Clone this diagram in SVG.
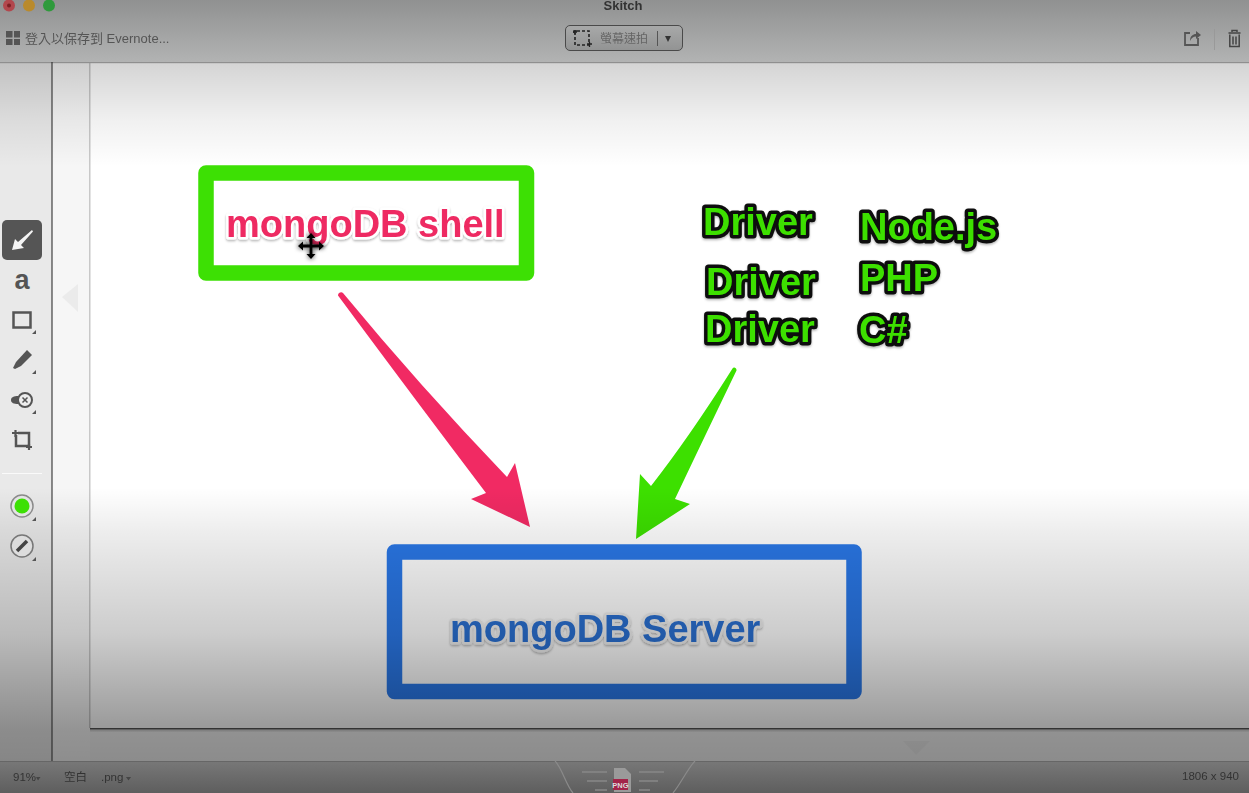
<svg xmlns="http://www.w3.org/2000/svg" width="1249" height="793" viewBox="0 0 1249 793">
<defs>
<linearGradient id="vig" x1="0" y1="0" x2="0" y2="793" gradientUnits="userSpaceOnUse">
<stop offset="0" stop-color="#000" stop-opacity="0.2"/>
<stop offset="0.078" stop-color="#000" stop-opacity="0.17"/>
<stop offset="0.15" stop-color="#000" stop-opacity="0.06"/>
<stop offset="0.21" stop-color="#000" stop-opacity="0"/>
<stop offset="0.615" stop-color="#000" stop-opacity="0"/>
<stop offset="0.67" stop-color="#000" stop-opacity="0.07"/>
<stop offset="0.8" stop-color="#000" stop-opacity="0.2"/>
<stop offset="0.92" stop-color="#000" stop-opacity="0.4"/>
<stop offset="1" stop-color="#000" stop-opacity="0.45"/>
</linearGradient>
<linearGradient id="bar" x1="0" y1="0" x2="0" y2="1"><stop offset="0" stop-color="#909191"/><stop offset="1" stop-color="#b2b3b3"/></linearGradient>
<linearGradient id="stat" x1="0" y1="0" x2="0" y2="1"><stop offset="0" stop-color="#787878"/><stop offset="1" stop-color="#5e5e5e"/></linearGradient>
<linearGradient id="btn" x1="0" y1="0" x2="0" y2="1"><stop offset="0" stop-color="#a8a9a9"/><stop offset="1" stop-color="#929393"/></linearGradient>
<filter id="sh" x="-10%" y="-20%" width="120%" height="150%"><feGaussianBlur in="SourceGraphic" stdDeviation="0.5" result="b"/><feDropShadow in="b" dx="0" dy="1.500" stdDeviation="1.200" flood-color="#000" flood-opacity="0.3"/></filter>
<filter id="soft" x="-20%" y="-20%" width="140%" height="140%"><feGaussianBlur stdDeviation="0.4"/></filter>
<filter id="blur" x="-40%" y="-40%" width="180%" height="180%"><feGaussianBlur stdDeviation="2.200"/></filter>
</defs>
<style>
.t{font-family:"Liberation Sans","Noto Sans CJK TC",sans-serif}
.big{font-family:"Liberation Sans",sans-serif;font-weight:700;font-size:38px;paint-order:stroke;stroke-linejoin:round;filter:url(#sh)}
.pink{fill:#ee2a62;stroke:#fff;stroke-width:5px}
.blue{fill:#2a70d2;stroke:#efefef;stroke-width:5px}
.grn{fill:#3de004;stroke:#0a0a0a;stroke-width:7px}
.ui{font-size:11.5px;fill:#333}
.ic{fill:none;stroke:#555;stroke-width:2.5}
.ifl{fill:#555}
.tk{fill:#555}
</style>
<rect id="panel" x="0" y="62" width="52" height="699" fill="#e9e9e9"/>
<rect id="gutter" x="52" y="62" width="38" height="699" fill="#f6f6f6"/>
<rect id="canvas" x="90" y="62" width="1159" height="666" fill="#fff"/>
<rect x="90" y="730" width="1159" height="31" fill="#f3f3f3"/>
<rect x="89" y="62" width="1.500" height="666" fill="#c8c8c8"/>
<rect x="90" y="728" width="1159" height="1.500" fill="#2c2c2c" opacity="0.8" filter="url(#soft)"/>
<rect x="90" y="729.500" width="1159" height="2" fill="#000" opacity="0.12"/>
<path d="M62 297 78 284V312Z" fill="#e4e4e4" opacity="0.6"/>
<path d="M903 741H930L916 755Z" fill="#000" opacity="0.03"/>

<g id="shell">
<rect x="206" y="173" width="320.500" height="100" fill="#fff" stroke="#3de004" stroke-width="15.500" stroke-linejoin="round"/>
<text class="big pink" x="226" y="237">mongoDB shell</text>
</g>
<g id="server">
<rect x="394.500" y="552" width="459.500" height="139.500" fill="none" stroke="#2a78e8" stroke-width="15.500" stroke-linejoin="round"/>
<text class="big blue" x="450" y="642">mongoDB Server</text>
</g>
<g id="drivers">
<text class="big grn" x="703" y="235">Driver</text>
<text class="big grn" x="706" y="295">Driver</text>
<text class="big grn" x="705" y="342">Driver</text>
<text class="big grn" x="860" y="240">Node.js</text>
<text class="big grn" x="860" y="291">PHP</text>
<text class="big grn" x="859" y="343">C#</text>
</g>
<g id="connectors" filter="url(#soft)">
<path d="M338 295.500C338 292.500 341.500 291.500 343 293Q418 384 507 477L515 463 530 527 471 499 486 493Q417 402 338 295.500Z" fill="#f12a64"/>
<path d="M732.500 368.500C733.500 366.500 736.800 367.500 736.500 370.500Q702 442 675 499L690 504 636 539 640 474 651 486Q690 436 732.500 368.500Z" fill="#3de004"/>
</g>
<g id="cursor">
<path d="M311 233V259M298 246H324" stroke="#000" stroke-width="6" fill="none" opacity="0.5" filter="url(#blur)"/>
<path d="M311 236V256M301 246H321" stroke="#000" stroke-width="2.800" fill="none" filter="url(#soft)"/>
<path d="M311 233 315.500 238H306.500ZM311 259 315.500 254H306.500ZM298 246 303 241.500V250.500ZM324 246 319 241.500V250.500Z" fill="#000"/>
</g>

<rect id="vignette" x="0" y="62" width="1249" height="699" fill="url(#vig)"/>

<g id="titlebar">
<rect x="0" y="0" width="1249" height="62" fill="url(#bar)"/>
<rect x="0" y="62" width="1249" height="1.200" fill="#8f8f8f"/>
<circle cx="9" cy="5.500" r="6" fill="#b2474d"/><circle cx="9" cy="5.500" r="2" fill="#7c1f24"/>
<circle cx="29" cy="5.500" r="6" fill="#b98a2c"/>
<circle cx="49" cy="5.500" r="6" fill="#2f9a3c"/>
<g filter="url(#soft)">
<text class="t" x="623" y="10" text-anchor="middle" font-size="13" font-weight="700" fill="#333">Skitch</text>
<path d="M6 31H12.500V37.500H6ZM14 31H20V37.500H14ZM6 39H12.500V45H6ZM14 39H20V45H14Z" fill="#555"/>
<text class="t" x="25" y="43" font-size="13" fill="#555">登入以保存到 Evernote...</text>
</g>
<rect x="565.500" y="25.500" width="117" height="25" rx="4.500" fill="url(#btn)" stroke="#4a4a4a"/>
<path d="M574 33V31H589V45H575V33M574 31H578" fill="none" stroke="#222" stroke-width="1.600" stroke-dasharray="3 2"/>
<path d="M573 32H577M575 30V34M587 44H592M589.500 42V47" stroke="#222" stroke-width="1.300"/>
<text class="t" x="600" y="43" font-size="12" fill="#666" filter="url(#soft)">螢幕速拍</text>
<rect x="657" y="31" width="1" height="15" fill="#555"/>
<path d="M665 36H671L668 42Z" fill="#333"/>
<path d="M1190 33H1185V45H1198V38" fill="none" stroke="#555" stroke-width="1.800"/>
<path d="M1190 41C1190 36 1193 34 1196 34V31L1201 35 1196 39V36.500C1193 36.500 1191.500 38 1190 41Z" fill="#555"/>
<rect x="1214" y="29" width="1" height="21" fill="#999"/>
<path d="M1232 32V30.500H1237V32M1228.500 33H1240.500M1229.800 34.500V46.500H1239.200V34.500M1233 36.500V44.500M1236 36.500V44.500" fill="none" stroke="#444" stroke-width="1.500"/>
</g>

<g id="toolbar">
<rect x="2" y="220" width="40" height="40" rx="5" fill="#555"/>
<path d="M12 250 15 239 18 242 32 230 33 231.500 21 245 24 248Z" fill="#f4f4f4"/>
<text class="t" x="22" y="289" text-anchor="middle" font-size="27" font-weight="700" fill="#555">a</text>
<rect x="13.500" y="312.500" width="17" height="15" class="ic"/>
<path d="M36 334H32L36 330Z" class="tk"/>
<path d="M13 368 16 362 27 350 32 355 21 366 15 369Z" class="ifl"/>
<path d="M36 374H32L36 370Z" class="tk"/>
<path d="M11 400C11 397 14 396 18 396V404C14 404 11 403 11 400Z" class="ifl"/>
<circle cx="25" cy="400" r="7" fill="#eee" stroke="#555" stroke-width="2"/>
<path d="M22.500 397.500 27.500 402.500M27.500 397.500 22.500 402.500" stroke="#555" stroke-width="1.500"/>
<path d="M36 414H32L36 410Z" class="tk"/>
<path d="M18 433H29V446H16V435" fill="none" stroke="#555" stroke-width="2.500"/>
<path d="M12 433H19M15.500 430V437M26 447H32M29 444V450" stroke="#555" stroke-width="2.200"/>
<rect x="2" y="473" width="40" height="1" fill="#fafafa"/>
<circle cx="22" cy="506" r="11" fill="#e4e4e4" stroke="#8a8a8a" stroke-width="1.500"/>
<circle cx="22" cy="506" r="7.500" fill="#3de004"/>
<path d="M36 521H32L36 517Z" class="tk"/>
<circle cx="22" cy="546" r="11" fill="#ddd" stroke="#777" stroke-width="1.500"/>
<path d="M17 551 27 541" stroke="#444" stroke-width="3.500"/>
<path d="M36 561H32L36 557Z" class="tk"/>
</g>

<rect x="51.500" y="62" width="1" height="699" fill="#1e1e1e"/>

<g id="statusbar">
<rect x="0" y="761" width="1249" height="32" fill="url(#stat)"/>
<rect x="0" y="761" width="1249" height="1" fill="#666"/>
<g filter="url(#soft)">
<text class="t ui" x="13" y="781">91%</text><path d="M36 777H40.500L38 780.500Z" fill="#444"/>
<text class="t ui" x="64" y="781">空白</text>
<text class="t ui" x="101" y="781">.png</text><path d="M126 777H131L128.500 780.500Z" fill="#444"/>
<text class="t ui" x="1239" y="780" text-anchor="end">1806 x 940</text>
</g>
<path d="M555 761C562 768 566 785 573 793M695 761C688 768 680 785 673 793" fill="none" stroke="#8a8a8a" stroke-width="1.200"/>
<path d="M582 772H607M587 781H607M595 790H607M639 772H664M639 781H658M639 790H650" stroke="#888" stroke-width="1.500"/>
<path d="M614 768H625L631 774V792H614Z" fill="#9a9a9a"/>
<rect x="613" y="779" width="15" height="11" fill="#a3254a"/>
<text class="t" x="620.500" y="787.500" text-anchor="middle" font-size="7.500" font-weight="700" fill="#ddd">PNG</text>
</g>
</svg>
